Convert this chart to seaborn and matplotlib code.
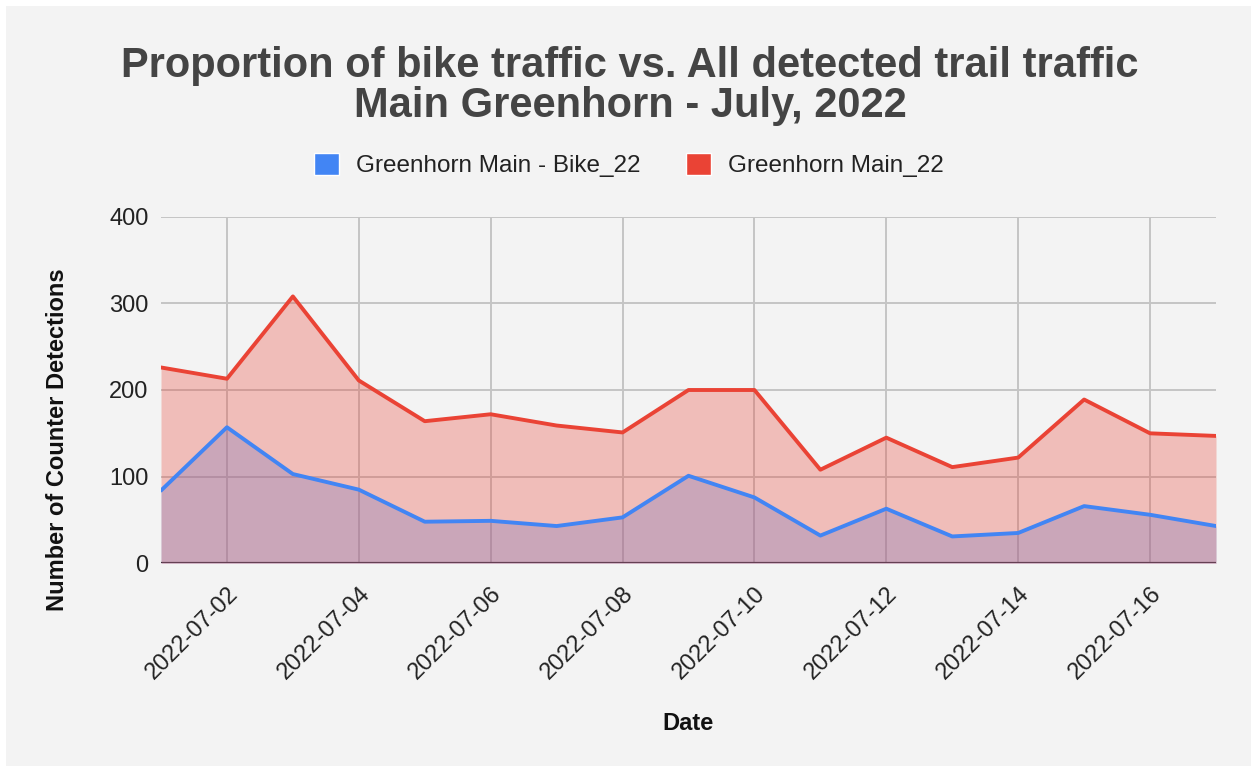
import numpy as np
import pandas as pd
import seaborn as sns
import matplotlib.pyplot as plt
import matplotlib.dates as mdates
from matplotlib.patches import Patch, Rectangle

# daily counter detections, Main Greenhorn, July 2022
dates = ['2022-07-01', '2022-07-02', '2022-07-03', '2022-07-04', '2022-07-05',
         '2022-07-06', '2022-07-07', '2022-07-08', '2022-07-09', '2022-07-10',
         '2022-07-11', '2022-07-12', '2022-07-13', '2022-07-14', '2022-07-15',
         '2022-07-16', '2022-07-17']
bike = [84, 157, 103, 85, 48, 49, 43, 53, 101, 76, 32, 63, 31, 35, 66, 56, 43]
total = [226, 213, 308, 211, 164, 172, 159, 151, 200, 200, 108, 145, 111, 122, 189, 150, 147]
series_names = ['Greenhorn Main - Bike_22', 'Greenhorn Main_22']
yticks = [0, 100, 200, 300, 400]

title = 'Proportion of bike traffic vs. All detected trail traffic\nMain Greenhorn - July, 2022'

blue = '#4285f4'
red = '#ea4335'
bg = '#f3f3f3'

sns.set_theme(style='whitegrid')
plt.rcParams['font.family'] = ['Liberation Sans', 'DejaVu Sans']

df = pd.DataFrame({'Date': pd.to_datetime(dates),
                   series_names[0]: bike,
                   series_names[1]: total})

W, H = 1251, 772
fig = plt.figure(figsize=(W / 100, H / 100), dpi=100, facecolor='white')
fig.patches.append(Rectangle((6 / W, 6 / H), 1 - 6 / W, 1 - 12 / H,
                             transform=fig.transFigure, facecolor=bg,
                             edgecolor='none', zorder=-10))

ax = fig.add_axes([161 / W, 1 - 563.3 / H, 1055 / W, 346.6 / H])
ax.set_facecolor(bg)

# areas (red drawn over blue, like the original)
ax.fill_between(df['Date'], 0, df[series_names[0]], color=blue, alpha=0.3, lw=0, zorder=2)
ax.fill_between(df['Date'], 0, df[series_names[1]], color=red, alpha=0.3, lw=0, zorder=3)
ax.axhline(0, color='#222222', lw=1.6, zorder=1.5)

sns.lineplot(data=df, x='Date', y=series_names[1], color=red, lw=2.8, ax=ax, zorder=5)
sns.lineplot(data=df, x='Date', y=series_names[0], color=blue, lw=2.8, ax=ax, zorder=6)

ax.set_xlim(df['Date'].iloc[0], df['Date'].iloc[-1])
ax.set_ylim(0, 400)
ax.set_yticks(yticks)
ax.xaxis.set_major_locator(mdates.DayLocator(bymonthday=range(2, 32, 2)))
ax.xaxis.set_major_formatter(mdates.DateFormatter('%Y-%m-%d'))

ax.grid(True, color='#c4c4c4', lw=1.4)
ax.set_axisbelow(True)
for s in ax.spines.values():
    s.set_visible(False)

ax.tick_params(axis='both', length=0, labelsize=17, labelcolor='#222222')
ax.tick_params(axis='y', pad=9)
ax.tick_params(axis='x', pad=14, labelrotation=45)
plt.setp(ax.get_xticklabels(), ha='right', va='top', rotation_mode='anchor')

ax.set_xlabel('Date', fontsize=17, fontweight='bold', color='#111111')
ax.xaxis.set_label_coords(0.5, -0.429)
ax.set_ylabel('Number of Counter Detections', fontsize=17, fontweight='bold', color='#111111')
ax.yaxis.set_label_coords(-0.087, 0.356)

fig.text(630 / W, 1 - 86 / H, title, ha='center', va='center', fontsize=30,
         fontweight='bold', color='#444444', linespacing=1.0)

handles = [Patch(facecolor=blue, label=series_names[0]),
           Patch(facecolor=red, label=series_names[1])]
leg = fig.legend(handles=handles, loc='center', bbox_to_anchor=(629 / W, 1 - 165 / H),
                 ncol=2, frameon=False, fontsize=17.5, handlelength=1.0,
                 handleheight=1.0, handletextpad=0.7, columnspacing=1.9)
for t in leg.get_texts():
    t.set_color('#222222')

fig.savefig('out.png', dpi=100, facecolor=fig.get_facecolor())
